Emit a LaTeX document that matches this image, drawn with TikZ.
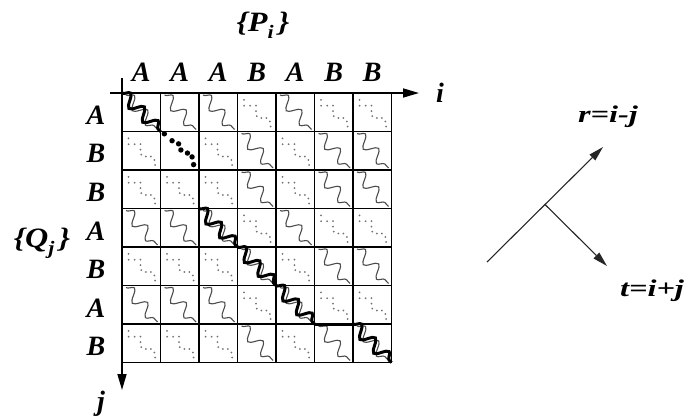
\documentclass[tikz,border=0pt]{standalone}
\usepackage{fontspec}
\setmainfont{Liberation Serif}
\usetikzlibrary{arrows.meta,decorations.pathmorphing}
\begin{document}
\begin{tikzpicture}[x=1pt,y=-1pt,
  gridline/.style={line width=1.8pt,black},
  axis/.style={line width=1.6pt,-{Triangle[length=16pt,width=9pt]}},
  thinwave/.style={draw=black!70,line width=1.1pt,decorate,decoration={snake,amplitude=6pt,segment length=19.5pt}},
  thickwave/.style={draw=black,line width=3pt,decorate,decoration={snake,amplitude=6pt,segment length=19.5pt}},
  sdot/.style={fill=black!55},
  lab/.style={font=\fontsize{28}{32}\selectfont\bfseries\itshape,inner sep=0pt},
  smalllab/.style={font=\fontsize{24}{28}\selectfont\bfseries\itshape,inner sep=0pt},
  vec/.style={line width=1.1pt,draw=black!85,-{Triangle[length=15pt,width=8pt]}}]
\useasboundingbox (0,0) rectangle (684,416);
\def\cs{38.5}
% cell contents
\foreach \r/\pat in {1/{1,1,1,0,1,0,0},2/{0,0,0,1,0,1,1},3/{0,0,0,1,0,1,1},4/{1,1,1,0,1,0,0},5/{0,0,0,1,0,1,1},6/{1,1,1,0,1,0,0},7/{0,0,0,1,0,1,1}}{
  \foreach \m [count=\c] in \pat {
    \pgfmathsetmacro{\xa}{122+\cs*(\c-1)}
    \pgfmathsetmacro{\ya}{93+\cs*(\r-1)}
    \ifnum\m=1
      \draw[thinwave] (\xa+4,\ya+2) -- (\xa+\cs-3,\ya+\cs-2);
    \else
      \foreach \u/\v in {0.17/0.18,0.17/0.33,0.33/0.33,0.48/0.33,0.48/0.47,0.5/0.6,0.62/0.65,0.75/0.65,0.84/0.74,0.86/0.87}
        \fill[sdot] (\xa+\u*\cs,\ya+\v*\cs) circle (1pt);
    \fi
  }
}
% grid
\foreach \k in {0,...,7}{
  \draw[gridline] (122+\k*\cs,93) -- (122+\k*\cs,362.5);
  \draw[gridline] (122,93+\k*\cs) -- (391.5,93+\k*\cs);
}
% thick alignment path
\fill[white] (122+\cs+1.5,93+\cs+1.5) rectangle (122+2*\cs-1.5,93+2*\cs-1.5);
\draw[thickwave] (122,93) -- (122+\cs,93+\cs);
\foreach \u/\v in {0.1/0.06,0.3/0.24,0.47/0.32,0.53/0.48,0.7/0.56,0.82/0.66,0.86/0.86}
  \fill[black] (122+\cs+\u*\cs,93+\cs+\v*\cs) circle (2.7pt);
\draw[line width=2.4pt,densely dotted] (122+2*\cs,93+2*\cs) -- (122+2*\cs,93+3*\cs);
\draw[thickwave] (122+2*\cs,93+3*\cs) -- (122+3*\cs,93+4*\cs);
\draw[thickwave] (122+3*\cs,93+4*\cs) -- (122+4*\cs,93+5*\cs);
\draw[thickwave] (122+4*\cs,93+5*\cs) -- (122+5*\cs,93+6*\cs);
\draw[line width=3pt] (122+5*\cs,93+6*\cs) -- (122+6*\cs,93+6*\cs);
\draw[thickwave] (122+6*\cs,93+6*\cs) -- (122+7*\cs,93+7*\cs);
% axes
\coordinate (iS) at (110,93);
\coordinate (iE) at (419,93);
\coordinate (jS) at (122,78);
\coordinate (jE) at (122,390);
\draw[axis] (iS) -- (iE);
\draw[axis] (jS) -- (jE);
\node[lab] (ilab) at (440,93) {i};
\node[lab] (jlab) at (101,404) {j};
% column and row labels
\foreach \l [count=\c] in {A,A,A,B,A,B,B}
  \node[lab] (col\c) at (122+\cs*\c-\cs/2,72) {\l};
\foreach \l [count=\r] in {A,B,B,A,B,A,B}
  \node[lab] (row\r) at (96,93+\cs*\r-\cs/2+3) {\l};
\node[lab] (P) at (263,25) {\scalebox{1.15}[1]{\{P\raisebox{-7pt}{\fontsize{19}{19}\selectfont i}\hspace{4pt}\}}};
\node[lab] (Q) at (42,243) {\scalebox{1.15}[1]{\{Q\raisebox{-7pt}{\fontsize{19}{19}\selectfont j}\hspace{4pt}\}}};
% right-side coordinate frame
\coordinate (O) at (487,262);
\coordinate (R) at (603,147);
\coordinate (M) at (545,204.5);
\coordinate (T) at (607,266);
\draw[vec] (O) -- (R);
\draw[vec] (M) -- (T);
\node[smalllab] (rlab) at (608,117) {\scalebox{1.35}[1]{r=i-j}};
\node[smalllab] (tlab) at (652,291) {\scalebox{1.35}[1]{t=i+j}};
\end{tikzpicture}
\end{document}
